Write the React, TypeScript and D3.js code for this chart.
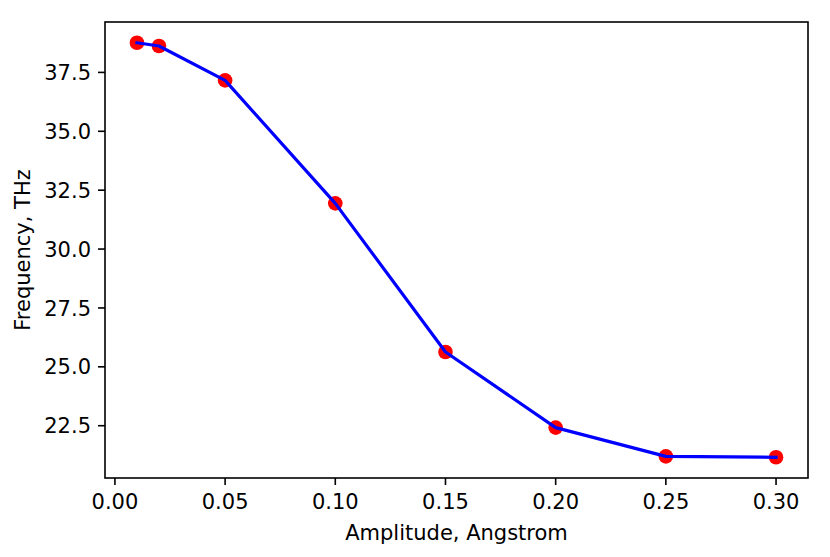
import React from "react";
import * as d3 from "d3";

const amplitudes = [0.01, 0.02, 0.05, 0.1, 0.15, 0.2, 0.25, 0.3];
const frequencies = [38.76, 38.62, 37.16, 31.94, 25.63, 22.42, 21.2, 21.16];
const xTicks = [0.0, 0.05, 0.1, 0.15, 0.2, 0.25, 0.3];
const yTicks = [22.5, 25.0, 27.5, 30.0, 32.5, 35.0, 37.5];

const W = 830;
const H = 557;
const left = 105;
const right = 808;
const top = 22;
const bottom = 478;
const FS = 21;
const FONT = "'DejaVu Sans', sans-serif";

export default function App() {
  const xr = 0.3 - 0.01;
  const x = d3.scaleLinear().domain([0.01 - 0.05 * xr, 0.3 + 0.05 * xr]).range([left, right]);
  const ymin = d3.min(frequencies)!;
  const ymax = d3.max(frequencies)!;
  const yr = ymax - ymin;
  const y = d3.scaleLinear().domain([ymin - 0.05 * yr, ymax + 0.05 * yr]).range([bottom, top]);
  const pts = amplitudes.map((a, i) => [a, frequencies[i]] as [number, number]);
  const line = d3.line<[number, number]>().x((d) => x(d[0])).y((d) => y(d[1]));

  return (
    <svg width={W} height={H} style={{ position: "absolute", left: 0, top: 0 }} fontFamily={FONT}>
      <rect width={W} height={H} fill="white" />
      {pts.map((p, i) => (
        <circle key={i} cx={x(p[0])} cy={y(p[1])} r={7.3} fill="red" />
      ))}
      <path d={line(pts)!} fill="none" stroke="blue" strokeWidth={3.2} strokeLinejoin="round" strokeLinecap="square" />
      <rect x={left} y={top} width={right - left} height={bottom - top} fill="none" stroke="black" strokeWidth={1.6} />
      {xTicks.map((t) => (
        <g key={t} transform={`translate(${x(t)},${bottom})`}>
          <line y1={0} y2={7} stroke="black" strokeWidth={1.6} />
          <text y={31} textAnchor="middle" fontSize={FS}>
            {t.toFixed(2)}
          </text>
        </g>
      ))}
      {yTicks.map((t) => (
        <g key={t} transform={`translate(${left},${y(t)})`}>
          <line x1={0} x2={-7} stroke="black" strokeWidth={1.6} />
          <text x={-14} y={7.6} textAnchor="end" fontSize={FS}>
            {t.toFixed(1)}
          </text>
        </g>
      ))}
      <text x={(left + right) / 2} y={540} textAnchor="middle" fontSize={FS}>
        Amplitude, Angstrom
      </text>
      <text transform={`translate(30,${(top + bottom) / 2}) rotate(-90)`} textAnchor="middle" fontSize={FS}>
        Frequency, THz
      </text>
    </svg>
  );
}
